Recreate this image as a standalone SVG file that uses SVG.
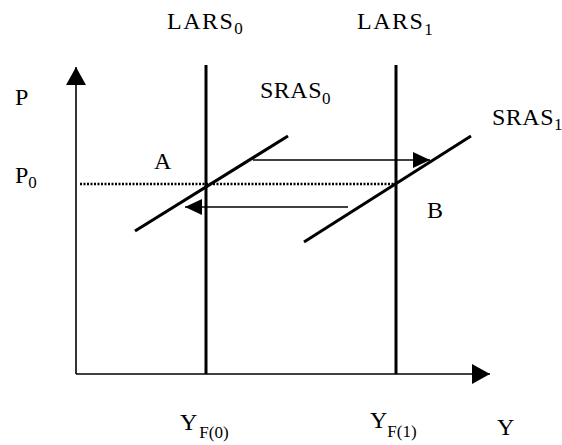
<svg xmlns="http://www.w3.org/2000/svg" width="562" height="445" viewBox="0 0 562 445">
<style>
text{font-family:"Liberation Serif","Times New Roman",serif;font-size:24px;fill:#000}
.sub{font-size:17px}
.axis{stroke:#000;stroke-width:1.6;fill:none}
.lars{stroke:#000;stroke-width:3;fill:none}
.sras{stroke:#000;stroke-width:3;fill:none}
.arr{stroke:#000;stroke-width:1.4;fill:none}
.dot{stroke:#000;stroke-width:2.5;stroke-dasharray:2 1.5;fill:none}
</style>
<defs>
<marker id="ah" viewBox="0 0 18 20" refX="18" refY="10" markerWidth="18" markerHeight="20" markerUnits="userSpaceOnUse" orient="auto"><path d="M0,0 L18,10 L0,20 z" fill="#000"/></marker>
<marker id="ah2" viewBox="0 0 17 16" refX="17" refY="8" markerWidth="17" markerHeight="16" markerUnits="userSpaceOnUse" orient="auto"><path d="M0,0 L17,8 L0,16 z" fill="#000"/></marker>
</defs>
<rect width="562" height="445" fill="#fff"/>
<g id="axes">
<line class="axis" x1="76" y1="374" x2="76" y2="67" marker-end="url(#ah)"/>
<line class="axis" x1="76" y1="374" x2="490" y2="374" marker-end="url(#ah)"/>
</g>
<g id="connectors">
<line class="dot" x1="80" y1="184" x2="395" y2="184"/>
<line class="arr" x1="253" y1="160" x2="430" y2="160" marker-end="url(#ah2)"/>
<line class="arr" x1="348" y1="207" x2="185" y2="207" marker-end="url(#ah2)"/>
</g>
<g id="lars0"><line class="lars" x1="206" y1="65" x2="206" y2="374"/></g>
<g id="lars1"><line class="lars" x1="396" y1="65" x2="396" y2="374"/></g>
<g id="sras0"><line class="sras" x1="135" y1="231" x2="288" y2="136"/></g>
<g id="sras1"><line class="sras" x1="304" y1="242" x2="471" y2="136"/></g>
<g id="labels">
<text x="167" y="29" letter-spacing="1.5">LARS<tspan class="sub" dy="5">0</tspan></text>
<text x="357" y="29" letter-spacing="1.5">LARS<tspan class="sub" dy="6">1</tspan></text>
<text x="260" y="98" letter-spacing="0.5">SRAS<tspan class="sub" dy="6">0</tspan></text>
<text x="492" y="125" letter-spacing="0.5">SRAS<tspan class="sub" dy="5">1</tspan></text>
<text x="15" y="105">P</text>
<text x="15" y="183">P<tspan class="sub" dy="5">0</tspan></text>
<text x="154" y="169">A</text>
<text x="427" y="218">B</text>
<text x="180" y="430">Y<tspan class="sub" dx="2" dy="8">F(0)</tspan></text>
<text x="370" y="428">Y<tspan class="sub" dx="0" dy="9">F(1)</tspan></text>
<text x="497" y="435">Y</text>
</g>
</svg>
